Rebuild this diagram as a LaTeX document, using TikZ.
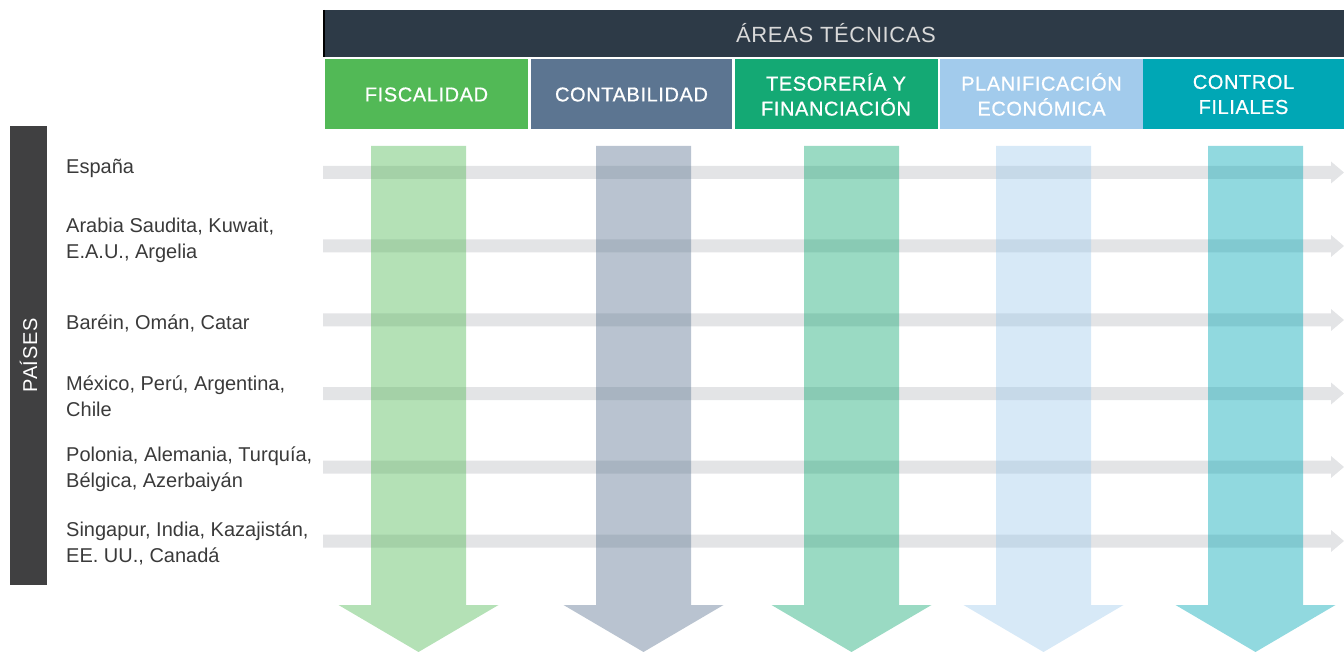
\documentclass[tikz,border=0pt]{standalone}
\usepackage{fontspec}
\setmainfont{Liberation Sans}
\newfontfamily\headfont[LetterSpace=3]{Liberation Sans}
\newfontfamily\areafont[LetterSpace=3,FakeBold=0.7]{Liberation Sans}
\usetikzlibrary{positioning}
\definecolor{barDark}{HTML}{2D3A47}
\definecolor{sideDark}{HTML}{404041}
\definecolor{fisc}{HTML}{52B956}
\definecolor{cont}{HTML}{5C7591}
\definecolor{teso}{HTML}{14A974}
\definecolor{plan}{HTML}{A2CBEC}
\definecolor{ctrl}{HTML}{00A7B5}
\definecolor{railGray}{HTML}{E3E4E6}
\definecolor{txtGray}{HTML}{3A3A3A}

\begin{document}
\begin{tikzpicture}[
  x=1pt, y=-1pt,
  topbar/.style={fill=barDark, text=black!15, minimum width=1021pt,
    minimum height=47pt, inner sep=0pt, font=\headfont\fontsize{22}{26}\selectfont},
  area/.style={text=white, minimum height=70pt, inner sep=0pt, align=center,
    font=\areafont\fontsize{20}{25}\selectfont},
  country/.style={anchor=west, inner sep=0pt, align=left, text=txtGray,
    font=\fontsize{20}{26}\selectfont},
  sidebar/.style={fill=sideDark, text=white, rotate=90, minimum width=459pt,
    minimum height=37pt, inner sep=0pt, font=\headfont\fontsize{20}{24}\selectfont}
]
\useasboundingbox (0,0) rectangle (1344,652);

% Header.
\node[topbar] (areas) at (833.5,33.5) {\hspace{5pt}ÁREAS TÉCNICAS};
\draw[black, line width=2pt] ([xshift=1pt]areas.north west) -- ([xshift=1pt]areas.south west);

\node[area, fill=fisc, minimum width=203pt] (fiscalidad) at (426.5,94.5) {FISCALIDAD};
\node[area, fill=cont, minimum width=201pt] (contabilidad) at (631.5,94.5) {CONTABILIDAD};
\node[area, fill=teso, minimum width=203pt] (tesoreria) at (836,94.5) {TESORERÍA Y\\FINANCIACIÓN};
\node[area, fill=plan, minimum width=203pt] (planificacion) at (1041.5,94.5) {PLANIFICACIÓN\\ECONÓMICA};
\node[area, fill=ctrl, minimum width=201pt] (control) at (1243.5,94.5) {CONTROL\\FILIALES};

% Side label.
\node[sidebar] (paises) at (28.5,355.5) {PAÍSES};

% Country rows.
\node[country] (espana) at (66,168) {España};
\node[country] (golfo) at (66,240) {Arabia Saudita, Kuwait,\\E.A.U., Argelia};
\node[country] (bahrein) at (66,323) {Baréin, Omán, Catar};
\node[country] (latam) at (66,396) {México, Perú, Argentina,\\Chile};
\node[country] (europa) at (66,469) {Polonia, Alemania, Turquía,\\Bélgica, Azerbaiyán};
\node[country] (asia) at (66,543) {Singapur, India, Kazajistán,\\EE.~UU., Canadá};

% Horizontal rails.
\foreach \y in {172.5,246,320,393.5,467,541}
  \fill[railGray] (323,{\y-6.5}) -- (1331,{\y-6.5}) -- (1331,{\y-11}) -- (1344,\y)
    -- (1331,{\y+11}) -- (1331,{\y+6.5}) -- (323,{\y+6.5}) -- cycle;

% Vertical arrows.
\foreach \cx/\col in {418.5/fisc,643.5/cont,851.5/teso,1043.5/plan,1255.5/ctrl}
  \fill[\col, fill opacity=0.43] ({\cx-47.5},146) -- ({\cx+47.5},146) -- ({\cx+47.5},605)
    -- ({\cx+80},605) -- (\cx,652) -- ({\cx-80},605) -- ({\cx-47.5},605) -- cycle;
\end{tikzpicture}
\end{document}
